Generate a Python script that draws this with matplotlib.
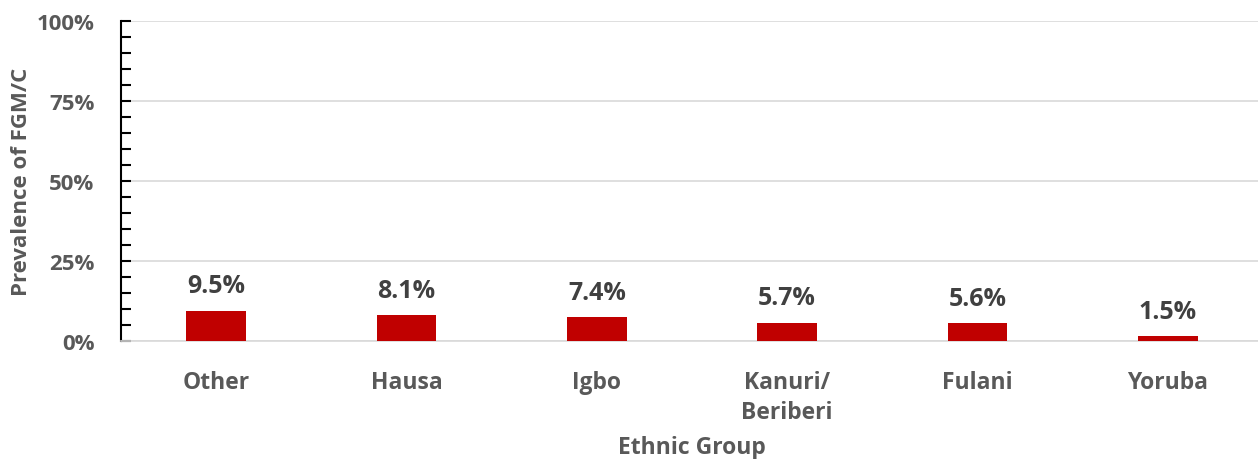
import matplotlib
matplotlib.use("Agg")
import matplotlib.pyplot as plt
from matplotlib.ticker import MultipleLocator, PercentFormatter

categories = ["Other", "Hausa", "Igbo", "Kanuri/\nBeriberi", "Fulani", "Yoruba"]
values = [9.5, 8.1, 7.4, 5.7, 5.6, 1.5]
value_labels = ["9.5%", "8.1%", "7.4%", "5.7%", "5.6%", "1.5%"]

plt.rcParams['font.family'] = ['Open Sans', 'DejaVu Sans']
plt.rcParams['font.weight'] = 'bold'
gray = '#595959'
bar_color = '#C00000'

fig = plt.figure(figsize=(12.58, 4.6), dpi=100)
W, H = 1258, 460
left, right, top, bottom = 121, 1263, 22, 342
ax = fig.add_axes([left / W, 1 - bottom / H, (right - left) / W, (bottom - top) / H])

x = list(range(len(categories)))
ax.bar(x, values, width=0.315, color=bar_color, zorder=3)
for xi, v, lab in zip(x, values, value_labels):
    ax.annotate(lab, (xi, v), xytext=(0, 9), textcoords='offset points',
                ha='center', va='bottom', fontsize=18, fontweight='bold', color='#404040')

ax.set_xlim(-0.5, len(categories) - 0.5)
ax.set_ylim(0, 100)
ax.yaxis.set_major_locator(MultipleLocator(25))
ax.yaxis.set_minor_locator(MultipleLocator(5))
ax.yaxis.set_major_formatter(PercentFormatter(decimals=0))
ax.grid(axis='y', color='#D9D9D9', linewidth=1.2, zorder=0)
ax.set_axisbelow(True)

ax.set_xticks(x)
ax.set_xticklabels(categories, fontsize=16.5, fontweight='bold', color=gray, linespacing=1.3)
ax.tick_params(axis='x', length=0, pad=21)
ax.tick_params(axis='y', which='both', direction='in', length=7, width=1.5, color='black',
               labelsize=16, labelcolor=gray, pad=19)
for lab in ax.get_yticklabels():
    lab.set_fontweight('bold')

for s in ['top', 'right']:
    ax.spines[s].set_visible(False)
ax.spines['left'].set_color('black')
ax.spines['left'].set_linewidth(1.5)
ax.spines['bottom'].set_color('#D9D9D9')
ax.spines['bottom'].set_linewidth(1.2)

ax.set_ylabel("Prevalence of FGM/C", fontsize=16, fontweight='bold', color=gray)
ax.set_xlabel("Ethnic Group", fontsize=16.5, fontweight='bold', color=gray, labelpad=8)
ax.yaxis.set_label_coords(-89 / (right - left), 0.5)

fig.savefig("out.png", dpi=100)
